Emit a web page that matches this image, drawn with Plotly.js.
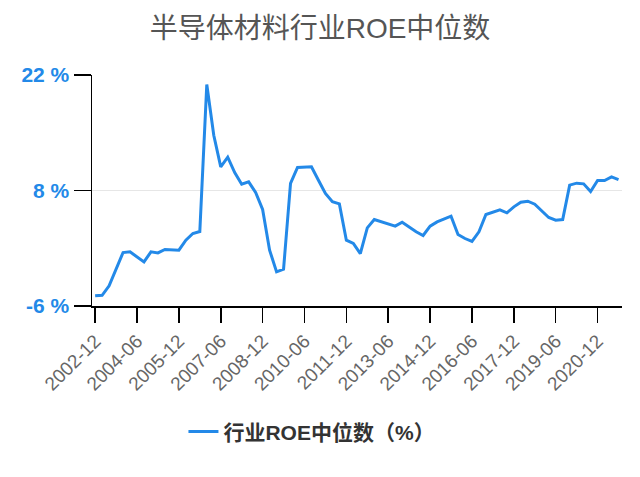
<!DOCTYPE html>
<html><head><meta charset="utf-8">
<script src="https://cdn.plot.ly/plotly-3.0.1.min.js"></script>
<style>html,body{margin:0;padding:0;background:#fff}#chart{width:640px;height:477px}</style>
</head><body><div id="chart"></div>
<script>
const quarters = ["2002-12",
"2003-03","2003-06","2003-09","2003-12","2004-03","2004-06","2004-09","2004-12",
"2005-03","2005-06","2005-09","2005-12","2006-03","2006-06","2006-09","2006-12",
"2007-03","2007-06","2007-09","2007-12","2008-03","2008-06","2008-09","2008-12",
"2009-03","2009-06","2009-09","2009-12","2010-03","2010-06","2010-09","2010-12",
"2011-03","2011-06","2011-09","2011-12","2012-03","2012-06","2012-09","2012-12",
"2013-03","2013-06","2013-09","2013-12","2014-03","2014-06","2014-09","2014-12",
"2015-03","2015-06","2015-09","2015-12","2016-03","2016-06","2016-09","2016-12",
"2017-03","2017-06","2017-09","2017-12","2018-03","2018-06","2018-09","2018-12",
"2019-03","2019-06","2019-09","2019-12","2020-03","2020-06","2020-09","2020-12",
"2021-03","2021-06","2021-09"];
const roeMedian = [-4.77,-4.7,-3.56,-1.45,0.48,0.56,-0.1,-0.65,0.56,0.44,0.85,0.8,0.77,1.98,2.79,3.03,
20.85,14.7,10.87,12.04,10.18,8.77,9.05,7.76,5.7,0.77,-1.86,-1.54,
8.85,10.79,10.79,10.87,9.25,7.64,6.63,6.38,1.98,1.58,0.36,
3.47,4.48,4.2,3.96,3.68,4.16,3.56,3.0,2.55,3.68,4.2,4.57,4.89,2.67,2.18,1.82,3.0,5.09,5.37,5.66,5.29,6.02,6.58,6.7,6.34,5.58,4.73,4.4,4.48,8.65,8.89,8.81,7.88,9.21,9.21,9.65,9.33];
const xTickLabels = ["2002-12","2004-06","2005-12","2007-06","2008-12","2010-06","2011-12","2013-06","2014-12","2016-06","2017-12","2019-06","2020-12"];
const yTicks = [-6, 8, 22];
const yTickText = ["-6 %", "8 %", "22 %"];
const seriesName = "行业ROE中位数（%）";
const chartTitle = "半导体材料行业ROE中位数";

const font = "Liberation Sans, Arial, Noto Sans CJK SC, sans-serif";
Plotly.newPlot("chart", [{
  x: quarters, y: roeMedian, type: "scatter", mode: "lines", name: seriesName,
  line: {color: "#2389e8", width: 3}
}], {
  width: 640, height: 477,
  margin: {l: 92, r: 18, t: 75, b: 171},
  paper_bgcolor: "#fff", plot_bgcolor: "#fff",
  title: {text: chartTitle, x: 0.5, xanchor: "center", y: 0.94, yanchor: "middle",
    font: {family: font, size: 28, color: "#555"}},
  xaxis: {type: "category", range: [-0.45, 75.5], tickmode: "array", tickvals: xTickLabels, ticktext: xTickLabels,
    tickangle: -45, ticks: "outside", ticklen: 15, tickcolor: "#000", tickwidth: 1.5,
    showline: true, linecolor: "#000", linewidth: 1.5, showgrid: false, zeroline: false,
    tickfont: {family: font, size: 19, color: "#666"}},
  yaxis: {range: [-6, 22], tickmode: "array", tickvals: yTicks, ticktext: yTickText,
    ticks: "outside", ticklen: 17, tickcolor: "#000", tickwidth: 1.5,
    showline: true, linecolor: "#000", linewidth: 1.5, showgrid: true, gridcolor: "#e6e6e6", gridwidth: 1,
    zeroline: false, tickfont: {family: font, size: 21, color: "#2389e8", weight: "bold"}},
  showlegend: true,
  legend: {orientation: "h", x: 0.415, xanchor: "center", y: -0.545, yanchor: "middle",
    font: {family: font, size: 21, color: "#333", weight: "bold"}}
}, {displayModeBar: false, staticPlot: true});
</script></body></html>
